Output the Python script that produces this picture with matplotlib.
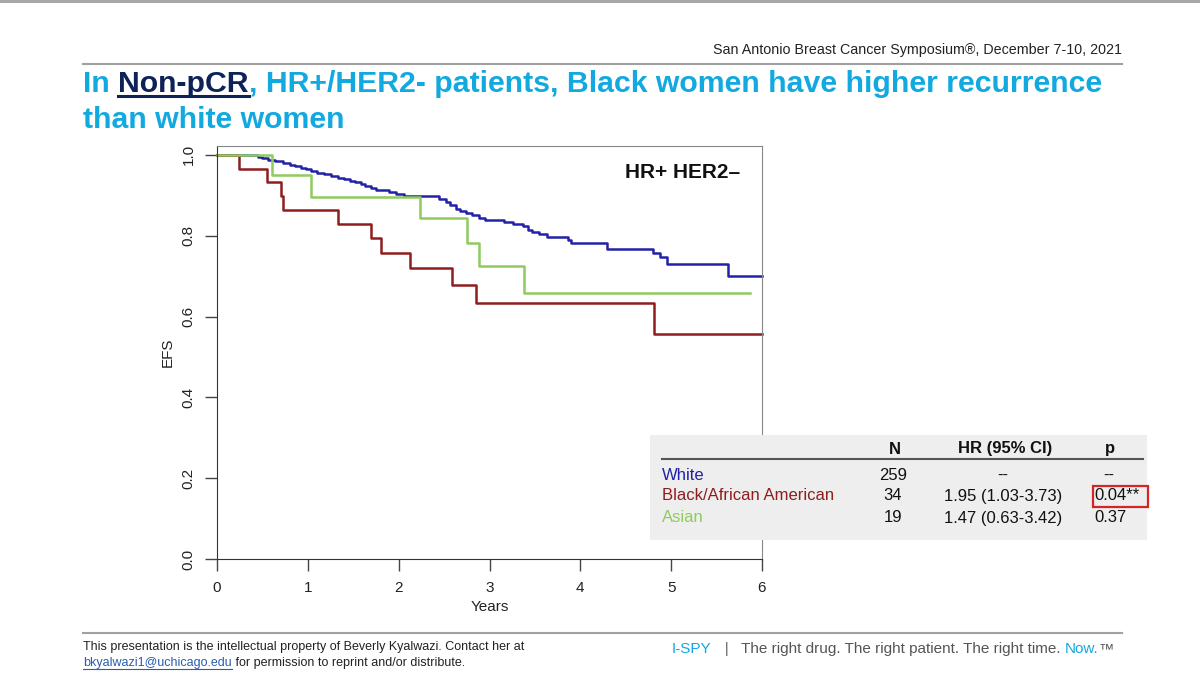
import matplotlib
matplotlib.use('Agg')
import matplotlib.pyplot as plt
from matplotlib.patches import Rectangle

# Kaplan-Meier steps: time of each drop (years) and EFS after it
white_t = [0, 0.45, 0.50, 0.56, 0.64, 0.73, 0.80, 0.86, 0.93, 0.98, 1.04, 1.10, 1.18, 1.26,
           1.33, 1.40, 1.46, 1.52, 1.58, 1.63, 1.70, 1.75, 1.89, 1.97, 2.06, 2.44, 2.52, 2.57,
           2.63, 2.68, 2.74, 2.81, 2.88, 2.95, 3.16, 3.26, 3.37, 3.42, 3.47, 3.54, 3.63, 3.86,
           3.90, 4.29, 4.80, 4.88, 4.95, 5.63]
white_s = [1.0, 0.996, 0.992, 0.988, 0.984, 0.980, 0.976, 0.972, 0.968, 0.964, 0.960, 0.956,
           0.952, 0.948, 0.944, 0.940, 0.936, 0.932, 0.928, 0.924, 0.918, 0.912, 0.907, 0.903,
           0.898, 0.891, 0.884, 0.876, 0.867, 0.861, 0.856, 0.851, 0.844, 0.839, 0.833, 0.828,
           0.823, 0.814, 0.808, 0.804, 0.797, 0.789, 0.781, 0.767, 0.757, 0.748, 0.730, 0.700]
white_end = 6.0

black_t = [0, 0.24, 0.55, 0.71, 0.73, 1.33, 1.70, 1.81, 2.12, 2.59, 2.85, 4.81]
black_s = [1.0, 0.966, 0.932, 0.898, 0.864, 0.829, 0.794, 0.758, 0.719, 0.678, 0.633, 0.556]
black_end = 6.0

asian_t = [0, 0.61, 1.03, 2.24, 2.75, 2.88, 3.38]
asian_s = [1.0, 0.950, 0.897, 0.843, 0.783, 0.724, 0.658]
asian_end = 5.87

groups = ['White', 'Black/African American', 'Asian']
n_pat = ['259', '34', '19']
hr_ci = ['--', '1.95 (1.03-3.73)', '1.47 (0.63-3.42)']
p_val = ['--', '0.04**', '0.37']

x_ticks = [0, 1, 2, 3, 4, 5, 6]
y_ticks = [0.0, 0.2, 0.4, 0.6, 0.8, 1.0]

BLUE = '#2222A8'
RED = '#8E1E1E'
GREEN = '#8FCB5E'
CYAN = '#12A9E0'
NAVY = '#0D2257'
NARROW = ['Liberation Sans Narrow', 'Liberation Sans', 'DejaVu Sans']
HELV = ['Liberation Sans', 'DejaVu Sans']

fig = plt.figure(figsize=(12, 6.77), dpi=100)

# KM plot area, placed in pixels of the slide
ax = fig.add_axes([217 / 1200, 1 - 559 / 677, 545 / 1200, 413 / 677])
for t, s, end, c in [(white_t, white_s, white_end, BLUE),
                     (black_t, black_s, black_end, RED),
                     (asian_t, asian_s, asian_end, GREEN)]:
    ax.step(t + [end], s + [s[-1]], where='post', color=c, lw=1.8, clip_on=False)
ax.set_xlim(0, 6)
ax.set_ylim(0, 1.022)
ax.set_xticks(x_ticks)
ax.set_yticks(y_ticks)
ax.set_yticklabels(['%.1f' % v for v in y_ticks])
ax.tick_params(axis='both', length=8.5, width=1, color='#444', labelcolor='#222',
               labelsize=11, pad=7)
ax.tick_params(axis='y', labelrotation=90)
for lab in ax.get_yticklabels():
    lab.set_va('center')
for lab in ax.get_xticklabels() + ax.get_yticklabels():
    lab.set_family(HELV)
for side in ['left', 'bottom']:
    ax.spines[side].set_color('#333')
for side in ['top', 'right']:
    ax.spines[side].set_color('#888')
ax.set_xlabel('Years', fontsize=11, family=HELV, color='#222', labelpad=4)
ax.set_ylabel('EFS', fontsize=11, family=HELV, color='#222', labelpad=5)
ax.text(0.855, 0.937, 'HR+ HER2\u2013', transform=ax.transAxes, ha='center', va='center',
        fontsize=15, fontweight='bold', family=HELV, color='#111')

# overlay in slide pixel coordinates for everything else
bg = fig.add_axes([0, 0, 1, 1], zorder=5)
bg.set_xlim(0, 1200)
bg.set_ylim(677, 0)
bg.axis('off')

bg.add_patch(Rectangle((0, 0), 1200, 3, color='#A8A8A8', lw=0))
bg.text(1122, 54, 'San Antonio Breast Cancer Symposium\u00ae, December 7-10, 2021',
        ha='right', va='baseline', fontsize=10.3, family=NARROW, color='#222')
bg.plot([83, 1122], [64, 64], color='#A0A0A0', lw=1.5)
bg.plot([83, 1122], [633, 633], color='#A0A0A0', lw=1.5)


def run_text(x, y, pieces, **kw):
    # consecutive differently coloured pieces on one baseline
    first = bg.text(x, y, pieces[0][0], color=pieces[0][1], va='baseline', **kw)
    out = [first]
    for txt, col in pieces[1:]:
        out.append(bg.annotate(txt, xy=(1, 0), xycoords=out[-1], va='bottom', ha='left',
                               color=col, **kw))
    return out


title_kw = dict(fontsize=21.75, fontweight='bold', family=NARROW)
parts = run_text(83, 92, [('In ', CYAN), ('Non-pCR', NAVY),
                          (', HR+/HER2- patients, Black women have higher recurrence', CYAN)],
                 **title_kw)
bg.text(83, 128, 'than white women', color=CYAN, va='baseline', **title_kw)

# table of hazard ratios
bg.add_patch(Rectangle((650, 435), 497, 105, color='#EEEEEE', lw=0))
hdr_y, row_y = 449, [475, 496, 518]
head_kw = dict(fontsize=12, fontweight='bold', family=HELV, color='#111', va='center')
bg.text(895, hdr_y, 'N', ha='center', **head_kw)
bg.text(1005, hdr_y, 'HR (95% CI)', ha='center', **head_kw)
bg.text(1110, hdr_y, 'p', ha='center', **head_kw)
bg.plot([662, 1143], [459, 459], color='#555', lw=1.5)
for g, n, hr, p, y, c in zip(groups, n_pat, hr_ci, p_val, row_y, [BLUE, RED, GREEN]):
    kw = dict(fontsize=12, family=HELV, va='center')
    bg.text(662, y, g, color=c, **kw)
    bg.text(893, y, n, ha='center', color='#111', **kw)
    bg.text(1003, y, hr, ha='center', color='#111', **kw)
    if p == '--':
        bg.text(1109, y, p, ha='center', color='#111', **kw)
    else:
        bg.text(1094, y, p, ha='left', color='#111', **kw)
bg.add_patch(Rectangle((1093, 486), 55, 21, fill=False, edgecolor='#D42424', lw=1.6))

# footer
foot_kw = dict(fontsize=9, family=NARROW)
bg.text(83, 650, 'This presentation is the intellectual property of Beverly Kyalwazi. '
        'Contact her at', va='baseline', color='#222', **foot_kw)
mail = run_text(83, 666, [('bkyalwazi1@uchicago.edu', '#2A5DB0'),
                          (' for permission to reprint and/or distribute.', '#222')],
                **foot_kw)
run_text(672, 653, [('I-SPY', CYAN), ('   |   ', '#666'),
                    ('The right drug. The right patient. The right time. ', '#555'),
                    ('Now.', CYAN), ('\u2122', '#555')],
         fontsize=11, family=NARROW)

# underlines need the laid-out text extents
fig.canvas.draw()
inv = bg.transData.inverted()
for art, y, col, lw in [(parts[1], 96, NAVY, 2.2), (mail[0], 668.5, '#2A5DB0', 0.8)]:
    bb = art.get_window_extent()
    x0 = inv.transform((bb.x0, bb.y0))[0]
    x1 = inv.transform((bb.x1, bb.y0))[0]
    bg.plot([x0, x1], [y, y], color=col, lw=lw)

fig.savefig('out.png', dpi=100)
